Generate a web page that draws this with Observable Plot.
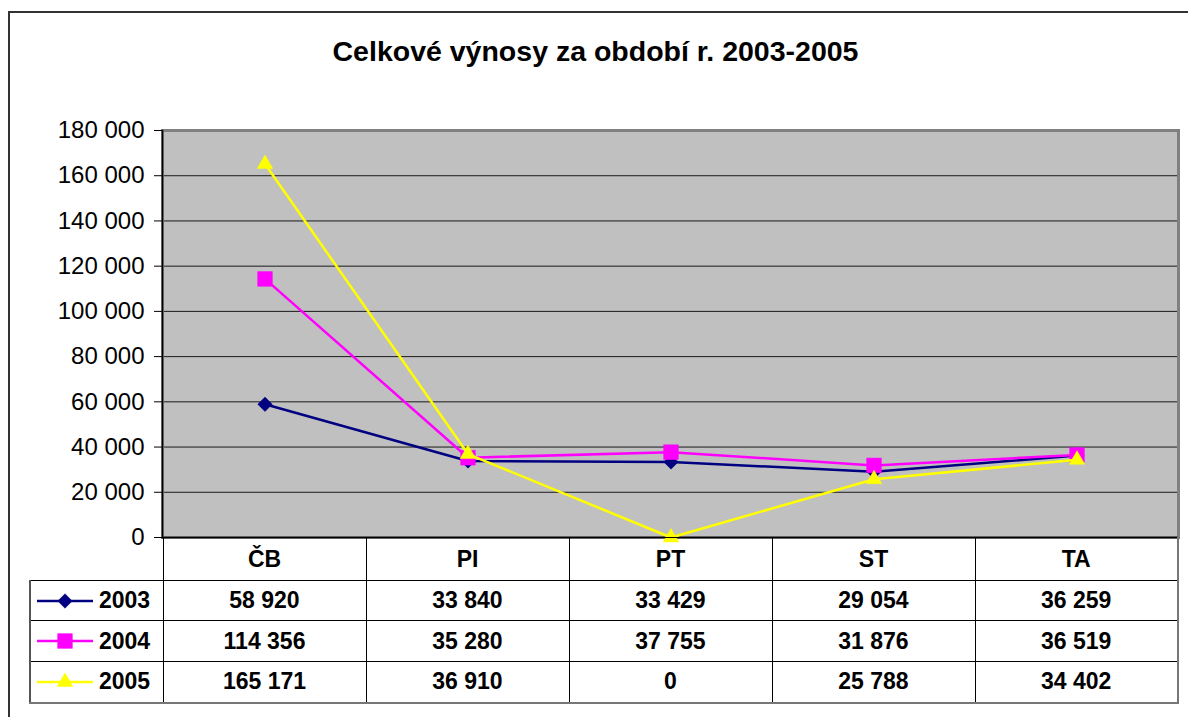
<!DOCTYPE html>
<html>
<head>
<meta charset="utf-8">
<script src="https://cdn.jsdelivr.net/npm/d3@7"></script>
<script src="https://cdn.jsdelivr.net/npm/@observablehq/plot@0.6"></script>
<style>
  body { margin: 0; background: #fff; }
  #wrap { position: relative; width: 1188px; height: 717px; overflow: hidden; font-family: "Liberation Sans", Arial, sans-serif; background: #fff; }
  #chart { position: absolute; left: 0; top: 0; }
  #frame { position: absolute; left: 8px; top: 11px; width: 1200px; height: 720px; border: 2px solid #333; box-sizing: border-box; pointer-events: none; }
  #title { position: absolute; left: 0; width: 1191px; top: 37px; line-height: 28px; font-size: 28.5px; font-weight: bold; text-align: center; color: #000; }
  #tbl { position: absolute; border-collapse: collapse; font-size: 23px; font-weight: bold; color: #000; table-layout: fixed; }
  #tbl td { border: 1px solid #000; text-align: center; padding: 0; white-space: nowrap; box-sizing: border-box; }
  #tbl td.blank { border-top: none; border-left: none; }
  #tbl td.leg { border-left: 2px solid #555; text-align: left; }
  #tbl td.rightEdge { border-right: 2px solid #777; }
  #tbl tr.last td { border-bottom: 2px solid #777; }
  .legbox { display: flex; align-items: center; padding-left: 6px; }
  .legbox svg { display: block; margin-right: 6px; }
</style>
</head>
<body>
<div id="wrap">
  <div id="chart"></div>
  <div id="title"></div>
  <div id="frame"></div>
</div>
<script>
const titleText = "Celkové výnosy za období r. 2003-2005";
const categories = ["ČB", "PI", "PT", "ST", "TA"];
const years = ["2003", "2004", "2005"];
const values2003 = [58920, 33840, 33429, 29054, 36259];
const values2004 = [114356, 35280, 37755, 31876, 36519];
const values2005 = [165171, 36910, 0, 25788, 34402];
const yTicks = [0, 20000, 40000, 60000, 80000, 100000, 120000, 140000, 160000, 180000];

const seriesColors = ["#000080", "#FF00FF", "#FFFF00"];
const seriesSymbols = ["diamond2", "square", "triangle"];
const seriesR = [6.5, 8.3, 5.8];
const d3Symbols = [d3.symbolDiamond2, d3.symbolSquare, d3.symbolTriangle];

const seriesValues = [values2003, values2004, values2005];
const fmt = d => d3.format(",")(d).replace(/,/g, " ");

document.getElementById("title").textContent = titleText;

const series = years.map((year, i) => ({
  year,
  rows: categories.map((cat, j) => ({year, cat, value: seriesValues[i][j]}))
}));

const seriesMarks = series.flatMap((s, i) => [
  Plot.line(s.rows, {x: "cat", y: "value", stroke: seriesColors[i], strokeWidth: 2.5}),
  Plot.dot(s.rows, {x: "cat", y: "value", symbol: () => seriesSymbols[i], fill: seriesColors[i], stroke: seriesColors[i], strokeWidth: 0.5, r: seriesR[i]})
]);

const chart = Plot.plot({
  width: 1188,
  height: 560,
  marginTop: 130,
  marginBottom: 23,
  marginLeft: 162,
  marginRight: 10,
  style: {background: "transparent", fontFamily: "'Liberation Sans', Arial, sans-serif", color: "#000"},
  x: {type: "band", domain: categories, padding: 0, axis: null},
  y: {domain: [0, 180000], axis: null},
  symbol: {type: "identity"},
  marks: [
    Plot.frame({fill: "#C0C0C0"}),
    Plot.gridY(yTicks.filter(t => t > 0 && t < 180000), {stroke: "#1a1a1a", strokeOpacity: 1, strokeWidth: 1}),
    Plot.frame({stroke: "#808080", strokeWidth: 3}),
    Plot.frame({anchor: "left", stroke: "#000", strokeWidth: 1.5}),
    Plot.ruleY([0], {stroke: "#000", strokeWidth: 1.5}),
    Plot.axisY(yTicks, {tickFormat: fmt, fontSize: 24, tickSize: 8, tickPadding: 10, label: null, fill: "#000", stroke: "#000"}),
    ...seriesMarks
  ]
});
document.getElementById("chart").appendChild(chart);

// Data table aligned with the chart's x band scale
const xs = chart.scale("x");
const bw = xs.bandwidth;
const x0 = xs.range[0];
const legLeft = 29;
const tableTop = 537;

const table = document.createElement("table");
table.id = "tbl";
table.style.left = legLeft + "px";
table.style.top = tableTop + "px";
const colgroup = document.createElement("colgroup");
const c0 = document.createElement("col");
c0.style.width = (x0 - legLeft) + "px";
colgroup.appendChild(c0);
categories.forEach(() => { const c = document.createElement("col"); c.style.width = bw + "px"; colgroup.appendChild(c); });
table.appendChild(colgroup);

const headRow = document.createElement("tr");
headRow.style.height = "43px";
const blank = document.createElement("td"); blank.className = "blank"; headRow.appendChild(blank);
categories.forEach((c, j) => {
  const td = document.createElement("td");
  td.textContent = c;
  if (j === categories.length - 1) td.className = "rightEdge";
  headRow.appendChild(td);
});
table.appendChild(headRow);

const rowHeights = [40, 41, 41];
series.forEach((s, i) => {
  const tr = document.createElement("tr");
  tr.style.height = rowHeights[i] + "px";
  if (i === series.length - 1) tr.className = "last";
  const leg = document.createElement("td");
  leg.className = "leg";
  const box = document.createElement("div");
  box.className = "legbox";
  const svg = d3.create("svg").attr("width", 56).attr("height", 20);
  svg.append("line").attr("x1", 0).attr("x2", 56).attr("y1", 10).attr("y2", 10)
    .attr("stroke", seriesColors[i]).attr("stroke-width", 2.5);
  svg.append("path").attr("transform", "translate(28,10)")
    .attr("d", d3.symbol(d3Symbols[i], seriesR[i] * seriesR[i] * Math.PI)())
    .attr("fill", seriesColors[i]).attr("stroke", seriesColors[i]).attr("stroke-width", 0.5);
  box.appendChild(svg.node());
  const span = document.createElement("span");
  span.textContent = s.year;
  box.appendChild(span);
  leg.appendChild(box);
  tr.appendChild(leg);
  s.rows.forEach((r, j) => {
    const td = document.createElement("td");
    td.textContent = fmt(r.value);
    if (j === categories.length - 1) td.className = "rightEdge";
    tr.appendChild(td);
  });
  table.appendChild(tr);
});
document.getElementById("wrap").appendChild(table);
</script>
</body>
</html>
